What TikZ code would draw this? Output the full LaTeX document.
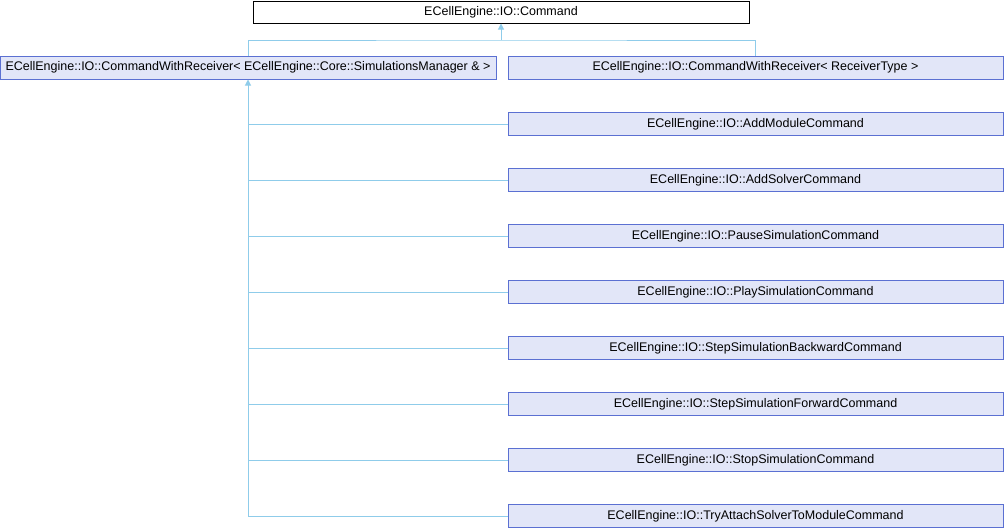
\documentclass[tikz,border=0pt]{standalone}
\usepackage{fontspec}
\setmainfont{Liberation Sans}
\usetikzlibrary{arrows.meta}
\definecolor{boxfill}{HTML}{E2E6F8}
\definecolor{boxline}{HTML}{5B70D2}
\definecolor{conn}{HTML}{8FCCEA}
\begin{document}
\begin{tikzpicture}[x=1pt,y=1pt,
  cls/.style={draw=boxline,fill=boxfill,line width=1pt,minimum width=495pt,minimum height=23pt,inner sep=0pt,font=\fontsize{12.5}{14}\selectfont},
  base/.style={draw=black,fill=white,line width=1pt,minimum width=496pt,minimum height=22pt,inner sep=0pt,font=\fontsize{12.5}{14}\selectfont},
  link/.style={draw=conn,line width=1pt},
  inh/.style={link,-{Triangle[length=6pt,width=6pt]}}]
\useasboundingbox (0,0) rectangle (1004,-528);
\node[base] (cmd) at (501,-12) {ECellEngine::IO::Command};
\node[cls,minimum width=496pt] (p) at (248,-67.5) {ECellEngine::IO::CommandWithReceiver<\ ECellEngine::Core::SimulationsManager \&\ >};
\node[cls] (r) at (755.5,-67.5) {ECellEngine::IO::CommandWithReceiver<\ ReceiverType\ >};
\node[cls] (c1) at (755.5,-124) {ECellEngine::IO::AddModuleCommand};
\node[cls] (c2) at (755.5,-180) {ECellEngine::IO::AddSolverCommand};
\node[cls] (c3) at (755.5,-236) {ECellEngine::IO::PauseSimulationCommand};
\node[cls] (c4) at (755.5,-292) {ECellEngine::IO::PlaySimulationCommand};
\node[cls] (c5) at (755.5,-348) {ECellEngine::IO::StepSimulationBackwardCommand};
\node[cls] (c6) at (755.5,-404) {ECellEngine::IO::StepSimulationForwardCommand};
\node[cls] (c7) at (755.5,-460) {ECellEngine::IO::StopSimulationCommand};
\node[cls] (c8) at (755.5,-516) {ECellEngine::IO::TryAttachSolverToModuleCommand};
\coordinate (bus) at (501,-40);
\draw[link] (p.north) |- (bus) -| (r.north);
\draw[inh] (bus) -- (cmd.south);
\foreach \c in {c1,c2,c3,c4,c5,c6,c7,c8} {\draw[link] (\c.west) -- (\c.west -| p.south);}
\draw[inh] (c8.west -| p.south) -- (p.south);
\end{tikzpicture}
\end{document}
